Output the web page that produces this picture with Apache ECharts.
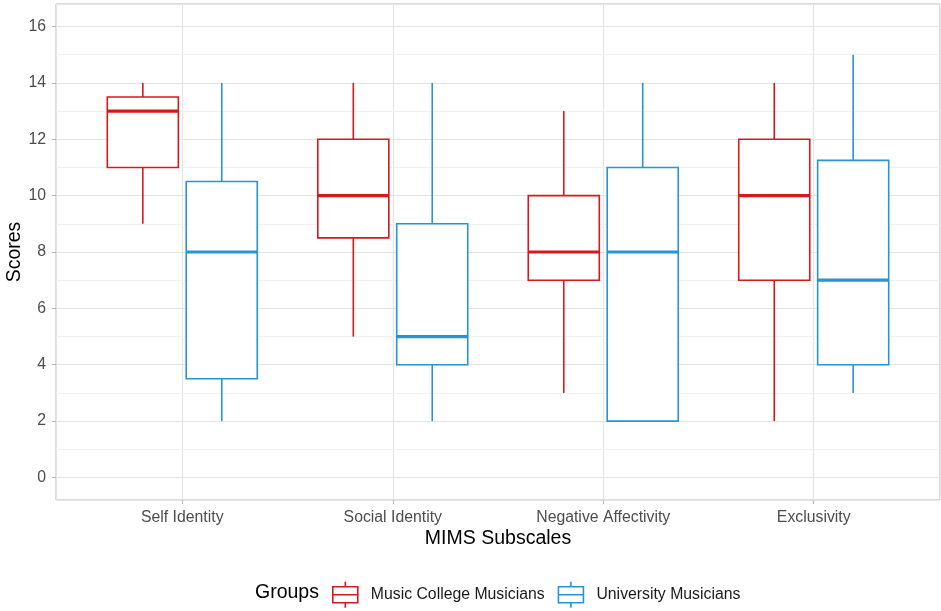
<!DOCTYPE html>
<html>
<head>
<meta charset="utf-8">
<script src="https://cdn.jsdelivr.net/npm/echarts@6/dist/echarts.min.js"></script>
<style>
html,body{margin:0;padding:0;background:#fff;}
#chart{width:941px;height:611px;}
</style>
</head>
<body>
<div id="chart"></div>
<script>
// ---- data ----
const categories = ['Self Identity', 'Social Identity', 'Negative Affectivity', 'Exclusivity'];
const groups = ['Music College Musicians', 'University Musicians'];
// [low whisker, Q1, median, Q3, high whisker]
const musicCollege = [
  [9, 11, 13, 13.5, 14],
  [5, 8.5, 10, 12, 14],
  [3, 7, 8, 10, 13],
  [2, 7, 10, 12, 14]
];
const university = [
  [2, 3.5, 8, 10.5, 14],
  [2, 4, 5, 9, 14],
  [2, 2, 8, 11, 14],
  [3, 4, 7, 11.25, 15]
];
const minorTicks = [1, 3, 5, 7, 9, 11, 13, 15];

const colors = ['#d7191c', '#2596d1'];
const FONT = 'Liberation Sans, Arial, sans-serif';
const HALF = 0.16875;

function makeRender(offset, color) {
  return function (params, api) {
    const x = api.value(0) + offset;
    const xc = api.coord([x, 0])[0];
    const xl = api.coord([x - HALF, 0])[0];
    const xr = api.coord([x + HALF, 0])[0];
    const yLow = api.coord([x, api.value(1)])[1];
    const yQ1 = api.coord([x, api.value(2)])[1];
    const yMed = api.coord([x, api.value(3)])[1];
    const yQ3 = api.coord([x, api.value(4)])[1];
    const yHigh = api.coord([x, api.value(5)])[1];
    const ls = { stroke: color, lineWidth: 1.6 };
    return {
      type: 'group',
      children: [
        { type: 'line', shape: { x1: xc, y1: yHigh, x2: xc, y2: yQ3 }, style: ls },
        { type: 'line', shape: { x1: xc, y1: yQ1, x2: xc, y2: yLow }, style: ls },
        { type: 'rect', shape: { x: xl, y: yQ3, width: xr - xl, height: yQ1 - yQ3 }, style: { fill: '#fff', stroke: color, lineWidth: 1.6 } },
        { type: 'line', shape: { x1: xl, y1: yMed, x2: xr, y2: yMed }, style: { stroke: color, lineWidth: 3.2 } }
      ]
    };
  };
}

function toData(arr) {
  return arr.map((d, i) => [i].concat(d));
}

const chart = echarts.init(document.getElementById('chart'), null, { renderer: 'canvas' });
const iconPath = 'path://M12.5,0V5M0,5H25V21H0ZM0,13H25M12.5,21V26';

chart.setOption({
  animation: false,
  textStyle: { fontFamily: FONT },
  grid: {
    left: 56, right: 1, top: 4, bottom: 111,
    containLabel: false, outerBoundsMode: 'none',
    show: true, borderColor: '#b8b8b8', borderWidth: 1, backgroundColor: '#fff'
  },
  xAxis: {
    type: 'value', min: -0.6, max: 3.6, splitNumber: 4,
    name: 'MIMS Subscales', nameLocation: 'middle', nameGap: 29,
    nameMoveOverlap: false,
    nameTextStyle: { fontSize: 19.5, color: '#000', fontFamily: FONT },
    axisLine: { show: false, onZero: false },
    axisTick: { show: true, length: 4, lineStyle: { color: '#b8b8b8' } },
    axisLabel: {
      margin: 10, fontSize: 15.8, color: '#4d4d4d', fontFamily: FONT,
      showMinLabel: false, showMaxLabel: false,
      formatter: function (v) {
        const r = Math.round(v);
        return (Math.abs(v - r) < 1e-6 && r >= 0 && r < categories.length) ? categories[r] : '';
      }
    },
    splitLine: { show: true, lineStyle: { color: '#e4e4e4', width: 1.2 } }
  },
  yAxis: {
    type: 'value', min: -0.8, max: 16.8, splitNumber: 8,
    name: 'Scores', nameLocation: 'middle', nameGap: 31,
    nameMoveOverlap: false,
    nameTextStyle: { fontSize: 19.5, color: '#000', fontFamily: FONT },
    axisLine: { show: false, onZero: false },
    axisTick: { show: true, length: 4, lineStyle: { color: '#b8b8b8' } },
    axisLabel: {
      margin: 10, fontSize: 15.8, color: '#4d4d4d', fontFamily: FONT,
      showMinLabel: false, showMaxLabel: false,
      formatter: function (v) {
        const r = Math.round(v);
        return (Math.abs(v - r) < 1e-6) ? String(r) : '';
      }
    },
    splitLine: { show: true, lineStyle: { color: '#e4e4e4', width: 1.2 } }
  },
  legend: {
    left: 332, top: 581, padding: 0, itemGap: 13,
    itemWidth: 25, itemHeight: 26,
    textStyle: { fontSize: 15.8, color: '#1a1a1a', fontFamily: FONT, padding: [0, 0, 0, 8] },
    data: [
      { name: groups[0], icon: iconPath, itemStyle: { color: '#fff', borderColor: colors[0], borderWidth: 1.6 } },
      { name: groups[1], icon: iconPath, itemStyle: { color: '#fff', borderColor: colors[1], borderWidth: 1.6 } }
    ]
  },
  graphic: [
    { type: 'text', left: 255, top: 583, style: { text: 'Groups', fontSize: 19.5, fill: '#000', fontFamily: FONT } }
  ],
  series: [
    {
      type: 'line', data: [], z: 1, silent: true,
      markLine: {
        z: 1, silent: true, symbol: ['none', 'none'], animation: false,
        label: { show: false },
        lineStyle: { color: '#f0f0f0', width: 1, type: 'solid' },
        emphasis: { disabled: true },
        data: minorTicks.map(v => ({ yAxis: v }))
      }
    },
    {
      name: groups[0], type: 'custom', z: 3,
      itemStyle: { color: colors[0] },
      renderItem: makeRender(-0.1875, colors[0]),
      encode: { x: 0, y: [1, 2, 3, 4, 5] },
      data: toData(musicCollege)
    },
    {
      name: groups[1], type: 'custom', z: 3,
      itemStyle: { color: colors[1] },
      renderItem: makeRender(0.1875, colors[1]),
      encode: { x: 0, y: [1, 2, 3, 4, 5] },
      data: toData(university)
    }
  ]
});
</script>
</body>
</html>
